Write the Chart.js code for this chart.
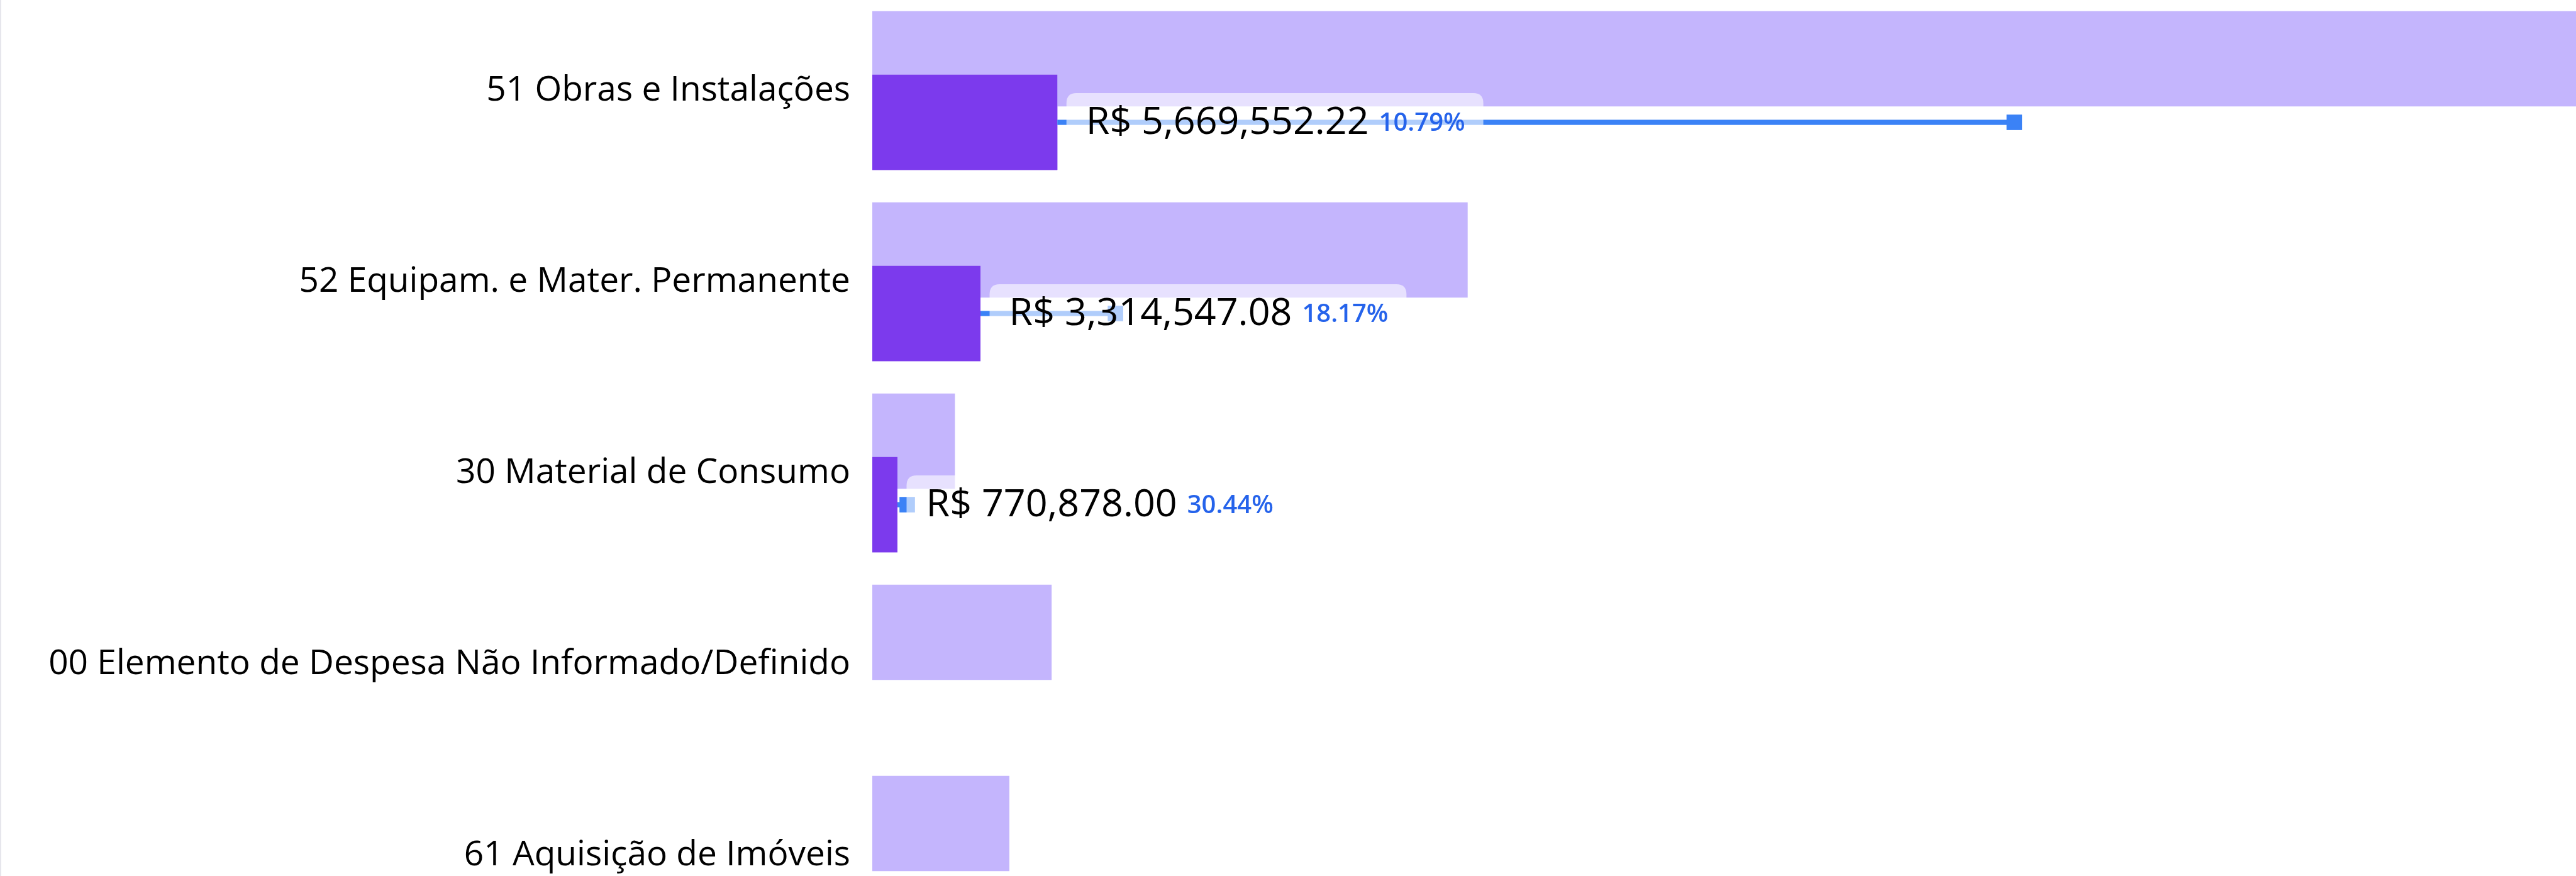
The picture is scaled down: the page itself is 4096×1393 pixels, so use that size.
<!DOCTYPE html>
<html>
<head>
<meta charset="utf-8">
<script src="https://cdn.jsdelivr.net/npm/chart.js@4.4.1/dist/chart.umd.min.js"></script>
<style>
  html, body { margin: 0; padding: 0; background: #fff; overflow: hidden; }
  body { width: 4096px; height: 1393px; position: relative; }
  #chart { position: absolute; left: 0; top: -8px; }
  .borda { position: absolute; left: 0; top: 0; width: 2px; height: 1393px; background: #e6e6ec; }
</style>
</head>
<body>
<canvas id="chart" width="4096" height="1520"></canvas>
<div class="borda"></div>
<script>
// Categorias (elemento de despesa)
const categorias = [
  "51 Obras e Instalações",
  "52 Equipam. e Mater. Permanente",
  "30 Material de Consumo",
  "00 Elemento de Despesa Não Informado/Definido",
  "61 Aquisição de Imóveis",
];

// Barras claras (orçado)
const orcado = [52544506, 18241866, 2532451, 5495000, 4200000];

// Barras escuras (executado)
const executado = [5669552.22, 3314547.08, 770878.0, null, null];

// Fim da linha azul com marcador
const referencia = [34990000, 7450000, 1070000, null, null];

// Percentuais exibidos ao lado dos valores
const percentuais = ["10.79%", "18.17%", "30.44%", null, null];

const fmtValor = (v) =>
  "R$ " + v.toLocaleString("en-US", { minimumFractionDigits: 2, maximumFractionDigits: 2 });

// linha, marcador e caixa de rótulo por cima das barras
const overlayPlugin = {
  id: "overlay",
  afterDatasetsDraw(chart) {
    const ctx = chart.ctx;
    const xScale = chart.scales.x;
    const metaExec = chart.getDatasetMeta(1);

    // barras escuras por cima das claras
    metaExec.controller.draw();

    ctx.save();
    metaExec.data.forEach((bar, i) => {
      if (executado[i] == null) return;
      const y = bar.y;
      const x0 = xScale.getPixelForValue(executado[i]);
      const x1 = xScale.getPixelForValue(referencia[i]);

      // linha azul + marcador quadrado
      ctx.fillStyle = "#3B82F6";
      ctx.fillRect(x0, y - 4.1, x1 - x0, 8.2);
      ctx.fillRect(x1 - 12.3, y - 12.3, 24.6, 24.6);

      // caixa semi-transparente
      const valorTxt = fmtValor(executado[i]);
      const pctTxt = percentuais[i];
      ctx.font = "61px 'Open Sans'";
      const wVal = ctx.measureText(valorTxt).width;
      ctx.font = "600 40px 'Open Sans'";
      const wPct = ctx.measureText(pctTxt).width;

      const bx = x0 + 14.5;
      const bw = 31 + wVal + 16 + wPct + 29;
      const bh = 93;
      const by = y - bh / 2;
      const r = 16;
      ctx.fillStyle = "rgba(255,255,255,0.6)";
      ctx.beginPath();
      ctx.moveTo(bx + r, by);
      ctx.lineTo(bx + bw - r, by);
      ctx.quadraticCurveTo(bx + bw, by, bx + bw, by + r);
      ctx.lineTo(bx + bw, by + bh - r);
      ctx.quadraticCurveTo(bx + bw, by + bh, bx + bw - r, by + bh);
      ctx.lineTo(bx + r, by + bh);
      ctx.quadraticCurveTo(bx, by + bh, bx, by + bh - r);
      ctx.lineTo(bx, by + r);
      ctx.quadraticCurveTo(bx, by, bx + r, by);
      ctx.closePath();
      ctx.fill();

      // textos
      ctx.textBaseline = "middle";
      ctx.textAlign = "left";
      ctx.fillStyle = "#000";
      ctx.font = "61px 'Open Sans'";
      ctx.fillText(valorTxt, bx + 31, y + 1);
      ctx.fillStyle = "#2563EB";
      ctx.font = "600 40px 'Open Sans'";
      ctx.fillText(pctTxt, bx + 31 + wVal + 16, y + 2);
    });
    ctx.restore();
  },
};

const ctx = document.getElementById("chart").getContext("2d");
new Chart(ctx, {
  type: "bar",
  data: {
    labels: categorias,
    datasets: [
      {
        label: "Orçado",
        data: orcado,
        backgroundColor: "#C4B5FD",
        categoryPercentage: 0.665,
        barPercentage: 1.5,
      },
      {
        label: "Executado",
        data: executado,
        backgroundColor: "#7C3AED",
        categoryPercentage: 0.665,
        barPercentage: 1.5,
      },
    ],
  },
  options: {
    indexAxis: "y",
    responsive: false,
    animation: false,
    layout: { padding: 0 },
    plugins: {
      legend: { display: false },
      tooltip: { enabled: false },
    },
    scales: {
      x: {
        display: false,
        min: 0,
        max: 52200000,
      },
      y: {
        grid: { display: false, drawTicks: false },
        border: { display: false },
        ticks: {
          color: "#000",
          padding: 35,
          font: { family: "'Open Sans'", size: 55 },
        },
        afterFit(scale) {
          scale.width = 1387;
          scale.paddingTop = 0;
          scale.paddingBottom = 0;
        },
      },
    },
  },
  plugins: [overlayPlugin],
});
</script>
</body>
</html>
